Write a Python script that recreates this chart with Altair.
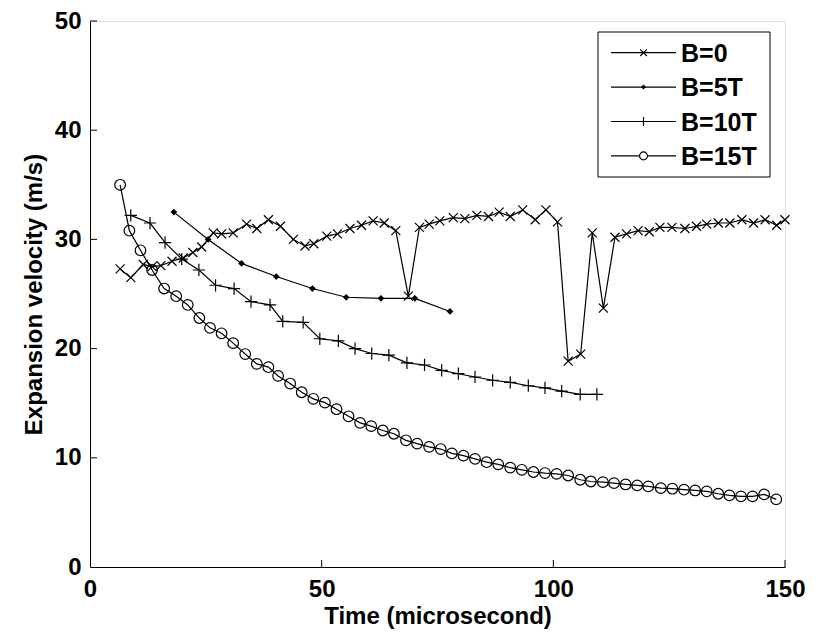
import altair as alt
import pandas as pd

# ---- data ----
t_b0 = [6.5, 8.8, 11.5, 13.4, 15.3, 17.7, 20.1, 22.2, 24.1, 26.6, 28.4, 30.9, 33.8, 36.0, 38.5, 41.1,
        43.9, 46.4, 48.3, 51.1, 53.4, 56.1, 58.6, 61.1, 63.5, 66.0, 68.7, 71.1, 73.2, 75.5, 78.4, 80.9,
        83.5, 86.0, 88.3, 90.7, 93.4, 96.1, 98.4, 100.9, 103.2, 105.9, 108.4, 110.8, 113.3, 115.8, 118.3,
        120.7, 123.0, 125.6, 128.4, 130.9, 133.1, 135.6, 138.1, 140.7, 143.2, 145.7, 148.2, 150.0]
v_b0 = [27.3, 26.5, 27.7, 27.5, 27.6, 28.0, 28.3, 28.8, 29.3, 30.6, 30.5, 30.6, 31.4, 31.0, 31.8, 31.2,
        30.0, 29.4, 29.6, 30.3, 30.5, 31.0, 31.3, 31.7, 31.5, 30.8, 24.8, 31.1, 31.4, 31.7, 32.0, 31.9,
        32.2, 32.1, 32.5, 32.1, 32.7, 31.8, 32.7, 31.6, 18.85, 19.5, 30.6, 23.7, 30.2, 30.5, 30.8,
        30.7, 31.1, 31.1, 31.0, 31.2, 31.4, 31.5, 31.5, 31.8, 31.5, 31.8, 31.3, 31.8]

t_b5 = [18.1, 25.5, 32.7, 40.2, 48.0, 55.3, 62.8, 70.1, 77.7]
v_b5 = [32.5, 30.0, 27.8, 26.6, 25.5, 24.7, 24.6, 24.6, 23.4]

t_b10 = [8.8, 12.95, 16.2, 19.8, 23.5, 27.1, 31.1, 34.75, 38.85, 41.6, 46.0, 49.6, 53.6, 57.2,
         60.8, 64.5, 68.4, 72.2, 75.9, 79.5, 83.1, 86.9, 90.7, 94.6, 98.2, 101.8, 105.8, 109.4]
v_b10 = [32.2, 31.5, 29.7, 28.2, 27.2, 25.8, 25.5, 24.3, 24.0, 22.5, 22.4, 20.9, 20.7, 20.0,
         19.55, 19.4, 18.7, 18.5, 18.0, 17.7, 17.4, 17.1, 16.9, 16.6, 16.4, 16.1, 15.8, 15.8]

t_b15 = [6.5, 8.5, 10.9, 13.4, 16.0, 18.6, 21.1, 23.6, 25.9, 28.4, 30.9, 33.5, 36.0, 38.5, 40.6,
         43.2, 45.7, 48.2, 50.7, 53.2, 55.8, 58.3, 60.7, 63.2, 65.6, 68.2, 70.6, 73.2, 75.7, 78.1,
         80.6, 83.1, 85.6, 88.1, 90.7, 93.2, 95.7, 98.2, 100.7, 103.2, 105.8, 108.1, 110.7, 113.1,
         115.6, 118.1, 120.5, 123.2, 125.7, 128.2, 130.6, 133.1, 135.6, 138.0, 140.5, 143.0, 145.5, 148.1]
v_b15 = [35.0, 30.8, 29.0, 27.2, 25.5, 24.8, 24.0, 22.8, 21.9, 21.4, 20.5, 19.5, 18.6, 18.3, 17.5,
         16.8, 16.0, 15.4, 15.05, 14.45, 13.8, 13.2, 12.9, 12.5, 12.2, 11.6, 11.3, 11.0, 10.8, 10.4,
         10.2, 9.9, 9.6, 9.4, 9.1, 8.9, 8.7, 8.6, 8.53, 8.38, 7.99, 7.83, 7.77, 7.68, 7.56, 7.47,
         7.38, 7.22, 7.17, 7.08, 7.01, 6.92, 6.71, 6.56, 6.47, 6.47, 6.65, 6.19]

series_names = ["B=0", "B=5T", "B=10T", "B=15T"]
x_ticks = [0, 50, 100, 150]
y_ticks = [0, 10, 20, 30, 40, 50]

# ---- styling ----
TOP = 13
W, H = 695, 546
FONT = "Liberation Sans"
FS = 24
LW = 1.2
XPATH = "M-1,-1L1,1M-1,1L1,-1"
PPATH = "M-1,0L1,0M0,-1L0,1"
styles = {
    "B=0": dict(shape=XPATH, size=81, filled=False),
    "B=5T": dict(shape="diamond", size=45, filled=True),
    "B=10T": dict(shape=PPATH, size=150, filled=False),
    "B=15T": dict(shape="circle", size=113, filled=False),
}
series = [(t_b0, v_b0), (t_b5, v_b5), (t_b10, v_b10), (t_b15, v_b15)]

xscale = alt.Scale(domain=[0, 150], nice=False, zero=False)
yscale = alt.Scale(domain=[0, 50], nice=False, zero=False)
xaxis = alt.Axis(values=x_ticks, ticks=False, grid=False, domainColor="black", domainWidth=1,
                 labelFont=FONT, labelFontSize=FS, labelFontWeight="bold", labelColor="black",
                 labelPadding=10, title="Time (microsecond)", titleFont=FONT, titleFontSize=FS,
                 titleFontWeight="bold", titleColor="black", titlePadding=3, labelFlush=False)
yaxis = alt.Axis(values=y_ticks, ticks=False, grid=False, domainColor="black", domainWidth=1,
                 labelFont=FONT, labelFontSize=FS, labelFontWeight="bold", labelColor="black",
                 labelPadding=9, title="Expansion velocity (m/s)", titleFont=FONT, titleFontSize=FS,
                 titleFontWeight="bold", titleColor="black", titlePadding=8, labelFlush=False)

layers = []
base = alt.Chart(pd.DataFrame({"t": [0, 150], "v": [0, 50]})).mark_point(opacity=0).encode(
    x=alt.X("t:Q", scale=xscale, axis=xaxis),
    y=alt.Y("v:Q", scale=yscale, axis=yaxis),
)
layers.append(base)

for name, (ts, vs) in zip(series_names, series):
    df = pd.DataFrame({"t": ts, "v": vs})
    st = styles[name]
    line = alt.Chart(df).mark_line(color="black", strokeWidth=LW, clip=True).encode(
        x=alt.X("t:Q", scale=xscale), y=alt.Y("v:Q", scale=yscale), order="t:Q")
    pt_kwargs = dict(shape=st["shape"], size=st["size"], filled=st["filled"], strokeWidth=LW, opacity=1)
    if st["filled"]:
        pt_kwargs["color"] = "black"
    else:
        pt_kwargs["stroke"] = "black"
        pt_kwargs["fill"] = "transparent"
    pts = alt.Chart(df).mark_point(**pt_kwargs).encode(
        x=alt.X("t:Q", scale=xscale), y=alt.Y("v:Q", scale=yscale))
    layers += [line, pts]

# inward ticks (matlab style)
xt = alt.Chart(pd.DataFrame({"t": x_ticks[1:]})).mark_rule(color="black", strokeWidth=1).encode(
    x=alt.X("t:Q", scale=xscale), y=alt.value(H), y2=alt.value(H - 7))
yt = alt.Chart(pd.DataFrame({"v": y_ticks[1:]})).mark_rule(color="black", strokeWidth=1).encode(
    y=alt.Y("v:Q", scale=yscale), x=alt.value(0), x2=alt.value(7))
layers += [xt, yt]

# legend box (matlab style)
off = 18 - (8 + TOP)  # keep legend at same page position
one = pd.DataFrame({"a": [0]})
box = alt.Chart(one).mark_rect(fill="white", stroke="black", strokeWidth=1).encode(
    x=alt.value(508), x2=alt.value(680), y=alt.value(14 + off), y2=alt.value(159 + off))
layers.append(box)
for i, name in enumerate(series_names):
    yy = 34.7 + 34.4 * i + off
    st = styles[name]
    lr = alt.Chart(one).mark_rule(color="black", strokeWidth=LW).encode(
        x=alt.value(521), x2=alt.value(586), y=alt.value(yy))
    pt_kwargs = dict(shape=st["shape"], size=st["size"] * 0.55, filled=st["filled"], strokeWidth=LW, opacity=1)
    if st["filled"]:
        pt_kwargs["color"] = "black"
    else:
        pt_kwargs["stroke"] = "black"
        pt_kwargs["fill"] = "white"
    lp = alt.Chart(one).mark_point(**pt_kwargs).encode(x=alt.value(553.5), y=alt.value(yy))
    lt = alt.Chart(pd.DataFrame({"label": [name]})).mark_text(
        align="left", baseline="middle", font=FONT, fontSize=25, fontWeight="bold", color="black"
    ).encode(x=alt.value(591), y=alt.value(yy + 1), text="label:N")
    layers += [lr, lp, lt]

chart = alt.layer(*layers).properties(
    width=W, height=H,
    autosize=alt.AutoSizeParams(type="none"),
    padding={"left": 82, "top": TOP, "right": 25, "bottom": 67},
).configure_view(stroke=None).configure(background="white")

chart.save("out.html", embed_options={"renderer": "svg", "actions": False})
